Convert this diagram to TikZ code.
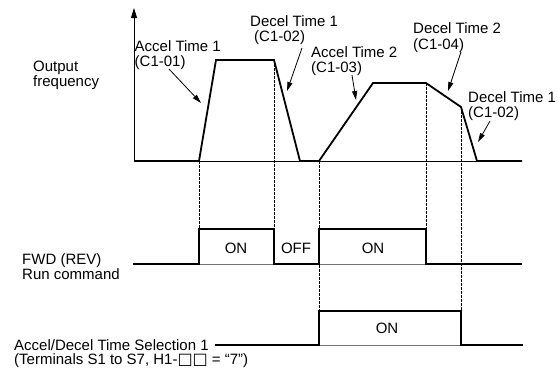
\documentclass[tikz,border=0pt]{standalone}
\usepackage{fontspec}
\setmainfont{Liberation Sans}
\newfontfamily\symfont{DejaVu Sans}
\usetikzlibrary{arrows.meta}
\begin{document}
\begin{tikzpicture}[x=1pt,y=-1pt,
  wave/.style={line width=1.8pt, line join=miter},
  thinln/.style={line width=0.8pt},
  greyln/.style={line width=0.9pt, draw=black!55},
  guide/.style={line width=0.6pt, dash pattern=on 2.5pt off 1.5pt},
  lbl/.style={inner sep=0pt, anchor=base west, font=\fontsize{15}{15}\selectfont},
  onlbl/.style={inner sep=0pt, font=\fontsize{15}{15}\selectfont},
  callout/.style={line width=0.8pt, -{Triangle[length=9pt,width=5pt]}},
]
\useasboundingbox (0,0) rectangle (558,368);

% axis
\coordinate (o) at (134,161);
\coordinate (top) at (134,8);
\coordinate (fend) at (522,161);
\draw[thinln, -{Triangle[length=10pt,width=6pt]}] (o) -- (top);
\draw[thinln] (o) -- (fend);

% guides
\draw[guide] (199,161) -- (199,229);
\draw[guide] (274,60) -- (274,229);
\draw[guide] (319,161) -- (319,311);
\draw[guide] (426,83) -- (426,229);
\draw[guide] (461,107) -- (461,311);

% output frequency waveform
\draw[wave] (o) -- (199,161) -- (216,60) -- (274,60) -- (300,161) -- (319,161)
  -- (373,83) -- (426,83) -- (461,107) -- (477,161) -- (fend);

% run command
\draw[greyln] (199,264) -- (274,264);
\draw[greyln] (319,264) -- (426,264);
\draw[wave] (133,264) -- (199,264) -- (199,229) -- (274,229) -- (274,264) -- (319,264)
  -- (319,229) -- (426,229) -- (426,264) -- (522,264);

% accel/decel selection
\draw[greyln] (319,345) -- (461,345);
\draw[wave] (215,345) -- (319,345) -- (319,311) -- (461,311) -- (461,345) -- (523,345);

% state labels
\node[onlbl] (on1) at (236,248) {ON};
\node[onlbl] (off1) at (296,248) {OFF};
\node[onlbl] (on2) at (373,248) {ON};
\node[onlbl] (on3) at (387,328) {ON};

% left labels
\node[lbl] (out1) at (33,71.5) {Output};
\node[lbl] (out2) at (33,86) {frequency};
\node[lbl] (run1) at (22,264.5) {FWD (REV)};
\node[lbl] (run2) at (22,279) {Run command};
\node[lbl] (sel1) at (14,350) {Accel/Decel Time Selection 1};
\node[lbl] (sel2) at (14,364) {(Terminals S1 to S7, H1-{\symfont\fontsize{16}{16}\selectfont □□} = “7”)};

% callout labels
\node[lbl] (a1a) at (134.5,51.5) {Accel Time 1};
\node[lbl] (a1b) at (134.5,66) {(C1-01)};
\node[lbl] (d1a) at (250,26) {Decel Time 1};
\node[lbl] (d1b) at (254,41.5) {(C1-02)};
\node[lbl] (a2a) at (311,57) {Accel Time 2};
\node[lbl] (a2b) at (311,72.5) {(C1-03)};
\node[lbl] (d2a) at (413,33.5) {Decel Time 2};
\node[lbl] (d2b) at (413,49) {(C1-04)};
\node[lbl] (d3a) at (468,102) {Decel Time 1};
\node[lbl] (d3b) at (468,117.5) {(C1-02)};

% callout arrows
\coordinate (a1s) at (169,69);  \coordinate (a1e) at (201,103);
\coordinate (d1s) at (302,48);  \coordinate (d1e) at (287,91);
\coordinate (a2s) at (352,75);  \coordinate (a2e) at (356,100);
\coordinate (d2s) at (461,52);  \coordinate (d2e) at (448,91);
\coordinate (d3s) at (490,121); \coordinate (d3e) at (478,142);
\draw[callout] (a1s) -- (a1e);
\draw[callout] (d1s) -- (d1e);
\draw[callout] (a2s) -- (a2e);
\draw[callout] (d2s) -- (d2e);
\draw[callout] (d3s) -- (d3e);
\end{tikzpicture}
\end{document}
